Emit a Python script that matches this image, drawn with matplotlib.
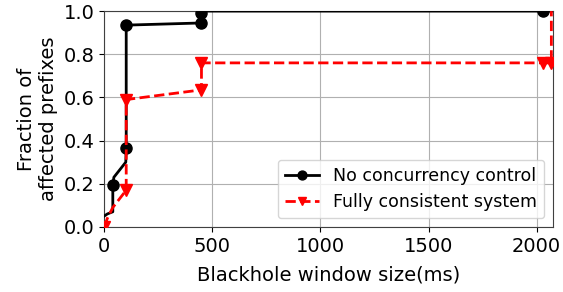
import matplotlib
matplotlib.use("Agg")
from matplotlib import pyplot as plt

# CDF-like curves
nocc_x = [0, 15, 40, 40, 45, 100, 102, 102, 450, 450, 450, 2030, 2075]
nocc_y = [0.05, 0.06, 0.07, 0.195, 0.23, 0.30, 0.365, 0.935, 0.945, 0.99, 1.0, 1.0, 1.0]
nocc_marks = [3, 6, 7, 8, 9, 11]

cons_x = [0, 15, 40, 102, 102, 450, 450, 2030, 2068, 2068]
cons_y = [0.0, 0.04, 0.09, 0.17, 0.59, 0.635, 0.76, 0.76, 0.76, 1.0]
cons_marks = [0, 3, 4, 5, 6, 7, 8]

x_ticks = [0, 500, 1000, 1500, 2000]
y_ticks = [0.0, 0.2, 0.4, 0.6, 0.8, 1.0]

fig = plt.figure(figsize=(5.63, 2.92), dpi=100)
ax = fig.add_axes([0.185, 0.223, 0.797, 0.739])

ax.plot(nocc_x, nocc_y, color="k", linewidth=2, marker="o", markersize=8,
        markevery=nocc_marks, label="No concurrency control", zorder=3)
ax.plot(cons_x, cons_y, color="r", linewidth=2, linestyle="--", marker="v",
        markersize=8, markevery=cons_marks, label="Fully consistent system",
        zorder=4)

ax.set_xlim(0, 2075)
ax.set_ylim(0, 1.0)
ax.set_xticks(x_ticks)
ax.set_yticks(y_ticks)
ax.tick_params(labelsize=14)
ax.grid(True, color="#b0b0b0", linewidth=0.8)
ax.set_xlabel("Blackhole window size(ms)", fontsize=14, labelpad=7)
ax.set_ylabel("Fraction of\naffected prefixes", fontsize=14)
for s in ax.spines.values():
    s.set_color("#404040")
ax.legend(loc="lower right", fontsize=12.5, markerscale=0.8)

fig.savefig("out.png", dpi=100)
